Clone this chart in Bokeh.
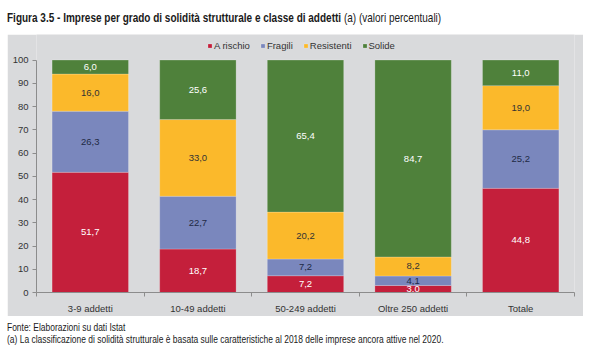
from bokeh.plotting import figure
from bokeh.models import (ColumnDataSource, Range1d, FixedTicker, Legend, LegendItem,
                          Div, Spacer)
from bokeh.layouts import column, row
from bokeh.core.properties import value
from bokeh.embed import file_html
from bokeh.resources import INLINE

categories = ["3-9 addetti", "10-49 addetti", "50-249 addetti", "Oltre 250 addetti", "Totale"]
series_names = ["A rischio", "Fragili", "Resistenti", "Solide"]
a_rischio = [51.7, 18.7, 7.2, 3.0, 44.8]
fragili = [26.3, 22.7, 7.2, 4.1, 25.2]
resistenti = [16.0, 33.0, 20.2, 8.2, 19.0]
solide = [6.0, 25.6, 65.4, 84.7, 11.0]
y_ticks = [0, 10, 20, 30, 40, 50, 60, 70, 80, 90, 100]

colors = ["#C41F3B", "#7A87BD", "#FBB92B", "#4F813B"]
label_colors = ["#FFFFFF", "#1F2A44", "#333333", "#FFFFFF"]
FONT = "Liberation Sans"
CSSFONT = "'Liberation Sans', Arial, sans-serif"

series = [a_rischio, fragili, resistenti, solide]
xs = [i + 0.5 for i in range(len(categories))]

p = figure(width=576, height=282, output_backend="svg", toolbar_location=None,
           x_range=Range1d(0, len(categories)), y_range=Range1d(0, 111.0),
           min_border_left=29, min_border_right=9, min_border_top=0, min_border_bottom=20)
p.background_fill_color = "#D9DADC"
p.border_fill_color = "#D9DADC"
p.outline_line_color = None
p.xgrid.grid_line_color = None
p.ygrid.grid_line_color = None

data = {"x": xs}
for name, vals in zip(series_names, series):
    data[name] = vals
src = ColumnDataSource(data)
renderers = p.vbar_stack(series_names, x="x", width=0.71, source=src, color=colors,
                         line_color="#FFFFFF", line_alpha=0.35, line_width=0.6)

# value labels
lx, ly, lt, lc = [], [], [], []
for i in range(len(categories)):
    base = 0.0
    for s, vals in enumerate(series):
        v = vals[i]
        lx.append(xs[i])
        ly.append(base + v / 2.0)
        lt.append(("%.1f" % v).replace(".", ","))
        lc.append(label_colors[s])
        base += v
p.text(x=lx, y=ly, text=lt, text_color=lc, text_align="center", text_baseline="middle",
       text_font=value(FONT), text_font_size="9.5px")

# axes
xa = p.xaxis[0]
xa.ticker = FixedTicker(ticks=xs, minor_ticks=list(range(len(categories) + 1)))
xa.major_label_overrides = {x: c for x, c in zip(xs, categories)}
xa.major_tick_line_color = None
xa.major_tick_out = 0
xa.major_tick_in = 0
xa.minor_tick_out = 4
xa.minor_tick_in = 0
xa.minor_tick_line_color = "#8C8C8C"
xa.axis_line_color = "#8C8C8C"
xa.major_label_standoff = 6
xa.major_label_text_font = FONT
xa.major_label_text_font_size = "9.5px"
xa.major_label_text_color = "#333333"

ya = p.yaxis[0]
ya.ticker = FixedTicker(ticks=y_ticks)
ya.bounds = (0, 100)
ya.major_tick_out = 4
ya.major_tick_in = 0
ya.minor_tick_line_color = None
ya.major_tick_line_color = "#8C8C8C"
ya.axis_line_color = "#8C8C8C"
ya.major_label_standoff = 4
ya.major_label_text_font = FONT
ya.major_label_text_font_size = "9.5px"
ya.major_label_text_color = "#333333"

legend = Legend(items=[LegendItem(label=n, renderers=[r]) for n, r in zip(series_names, renderers)],
                orientation="horizontal", location=(171, 241),
                background_fill_alpha=0, border_line_color=None,
                glyph_width=5, glyph_height=5, label_standoff=2, spacing=10,
                padding=0, margin=0, label_height=10,
                label_text_font=FONT, label_text_font_size="9.5px", label_text_color="#333333")
p.add_layout(legend)

title = Div(text=("<div style=\"font-family:" + CSSFONT + ";font-size:13.5px;color:#1a1a1a;"
                  "white-space:nowrap;padding:8px 0 0 7px;\">"
                  "<span style=\"display:inline-block;transform:scaleX(0.741);transform-origin:0 0;\">"
                  "<b>Figura 3.5 - Imprese per grado di solidità strutturale e classe di addetti</b> "
                  "(a) (valori percentuali)</span></div>"),
            width=600, height=34, margin=0)
foot = Div(text=("<div style=\"font-family:" + CSSFONT + ";font-size:10.5px;"
                 "color:#1a1a1a;line-height:12px;white-space:nowrap;padding:5px 0 0 7px;\">"
                 "<span style=\"display:inline-block;transform:scaleX(0.805);transform-origin:0 0;\">"
                 "Fonte: Elaborazioni su dati Istat<br>"
                 "(a) La classificazione di solidità strutturale è basata sulle caratteristiche "
                 "al 2018 delle imprese ancora attive nel 2020.</span></div>"),
           width=600, height=39, margin=0)

layout = column(title, row(Spacer(width=7, height=282, margin=0), p, margin=0, spacing=0),
                foot, margin=0, spacing=0)

open("out.html", "w").write(file_html(layout, INLINE))
